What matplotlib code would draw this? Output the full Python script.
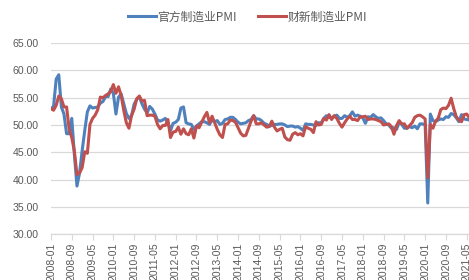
import numpy as np
import pandas as pd
import matplotlib
matplotlib.use("Agg")
import matplotlib.pyplot as plt

plt.rcParams['font.family'] = ['Liberation Sans', 'Noto Sans CJK SC', 'DejaVu Sans']

months = pd.date_range("2008-01", "2021-06", freq="MS").strftime("%Y-%m").tolist()

official_pmi = [
    53.0, 53.4, 58.4, 59.2, 53.3, 52.0, 48.4, 48.4, 51.2, 44.6, 38.8, 41.2,
    45.3, 49.0, 52.4, 53.5, 53.1, 53.2, 53.3, 54.0, 54.3, 55.2, 55.2, 56.6,
    55.8, 52.0, 55.1, 55.7, 53.9, 52.1, 51.2, 51.7, 53.8, 54.7, 55.2, 53.9,
    52.9, 52.2, 53.4, 52.9, 52.0, 50.9, 50.7, 50.9, 51.2, 50.4, 49.0, 50.3,
    50.5, 51.0, 53.1, 53.3, 50.4, 50.2, 50.1, 49.2, 49.8, 50.2, 50.6, 50.6,
    50.4, 50.1, 50.9, 50.6, 50.8, 50.1, 50.3, 51.0, 51.1, 51.4, 51.4, 51.0,
    50.5, 50.2, 50.3, 50.4, 50.8, 51.0, 51.7, 51.1, 51.1, 50.8, 50.3, 50.1,
    49.8, 49.9, 50.1, 50.1, 50.2, 50.2, 50.0, 49.7, 49.8, 49.8, 49.6, 49.7,
    49.4, 49.0, 50.2, 50.1, 50.1, 50.0, 49.9, 50.4, 50.4, 51.2, 51.7, 51.4,
    51.3, 51.6, 51.8, 51.2, 51.2, 51.7, 51.4, 51.7, 52.4, 51.6, 51.8, 51.6,
    51.3, 50.3, 51.5, 51.4, 51.9, 51.5, 51.2, 51.3, 50.8, 50.2, 50.0, 49.4,
    49.5, 49.2, 50.5, 50.1, 49.4, 49.4, 49.7, 49.5, 49.8, 49.3, 50.2, 50.2,
    50.0, 35.7, 52.0, 50.8, 50.6, 50.9, 51.1, 51.0, 51.5, 51.4, 52.1, 51.9,
    51.3, 50.6, 51.9, 51.1, 51.0, 50.9,
]

caixin_pmi = [
    53.0, 52.7, 53.6, 55.3, 54.8, 53.3, 53.3, 49.2, 47.7, 45.2, 40.9, 41.2,
    42.2, 45.1, 44.8, 50.1, 51.2, 51.8, 52.8, 55.1, 55.0, 55.4, 55.7, 56.1,
    57.4, 55.8, 57.0, 55.4, 52.7, 50.4, 49.4, 51.7, 52.9, 54.8, 55.3, 54.4,
    54.5, 51.7, 51.8, 51.8, 51.6, 50.1, 49.3, 49.9, 49.9, 51.0, 47.7, 48.7,
    48.8, 49.6, 48.3, 49.3, 48.4, 48.2, 49.3, 47.6, 49.8, 49.5, 50.5, 51.5,
    52.3, 50.4, 51.6, 50.4, 49.2, 48.2, 47.7, 50.1, 50.2, 50.9, 50.8, 50.5,
    49.5, 48.5, 48.0, 48.1, 49.4, 50.7, 51.7, 50.2, 50.2, 50.4, 50.0, 49.6,
    49.7, 50.7, 49.6, 48.9, 49.2, 49.4, 47.8, 47.3, 47.2, 48.3, 48.6, 48.2,
    48.4, 48.0, 49.7, 49.4, 49.2, 48.6, 50.6, 50.0, 50.1, 51.2, 50.9, 51.9,
    51.0, 51.7, 51.2, 50.3, 49.6, 50.4, 51.1, 51.6, 51.0, 51.0, 50.8, 51.5,
    51.5, 51.6, 51.0, 51.1, 51.1, 51.0, 50.8, 50.6, 50.0, 50.1, 50.2, 49.7,
    48.3, 49.9, 50.8, 50.2, 50.2, 49.4, 49.9, 50.4, 51.4, 51.7, 51.8, 51.5,
    51.1, 40.3, 50.1, 49.4, 50.7, 51.2, 52.8, 53.1, 53.0, 53.6, 54.9, 53.0,
    51.5, 50.9, 50.6, 51.9, 52.0, 51.3,
]

series_names = ["官方制造业PMI", "财新制造业PMI"]
y_ticks = [30, 35, 40, 45, 50, 55, 60, 65]

fig = plt.figure(figsize=(4.69, 2.80), dpi=100)
ax = fig.add_axes([0.1087, 0.164, 0.892, 0.682])

x = np.arange(len(months))
ax.plot(x, official_pmi, color="#4F81BD", lw=2.2, label=series_names[0], solid_joinstyle="round")
ax.plot(x, caixin_pmi, color="#C0504D", lw=2.2, label=series_names[1], solid_joinstyle="round")

ax.set_xlim(0, len(months) - 1)
ax.set_ylim(30, 65)
ax.set_yticks(y_ticks)
ax.set_yticklabels([f"{v:.2f}" for v in y_ticks])
ax.grid(axis="y", color="#D9D9D9", lw=0.9)
ax.set_axisbelow(True)

tick_idx = x[::8]
ax.set_xticks(tick_idx)
ax.set_xticklabels([months[i] for i in tick_idx], rotation=90)

for s in ["top", "right", "left"]:
    ax.spines[s].set_visible(False)
ax.spines["bottom"].set_color("#D9D9D9")
ax.spines["bottom"].set_linewidth(0.9)

ax.tick_params(axis="y", length=0, labelsize=7.6, labelcolor="#595959", pad=9)
ax.tick_params(axis="x", length=4, color="#D9D9D9", labelsize=7.5, labelcolor="#595959", pad=2)

leg = fig.legend(loc="upper center", bbox_to_anchor=(0.527, 1.0), ncol=2, frameon=False,
                 prop={"family": ["Noto Sans CJK SC", "DejaVu Sans"], "size": 8.5},
                 handlelength=2.4, handletextpad=0.1, columnspacing=1.8)
for t in leg.get_texts():
    t.set_color("#595959")

fig.savefig("out.png", dpi=100)
